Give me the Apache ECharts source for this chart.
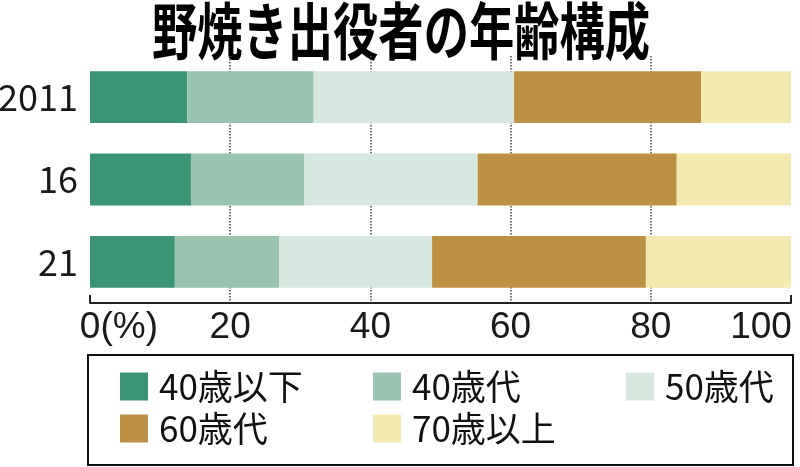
<!DOCTYPE html>
<html>
<head>
<meta charset="utf-8">
<script src="https://cdn.jsdelivr.net/npm/echarts@6/dist/echarts.min.js"></script>
<style>
  html, body { margin: 0; padding: 0; background: #fff; }
  #main { width: 800px; height: 467px; }
</style>
</head>
<body>
<div id="main"></div>
<script>
// 年ごとの割合(%)
var years = ['2011', '16', '21'];
var groups = ['40歳以下', '40歳代', '50歳代', '60歳代', '70歳以上'];
var under40 = [13.9, 14.4, 12.1];
var age40s = [18.0, 16.2, 14.9];
var age50s = [28.6, 24.7, 21.8];
var age60s = [26.7, 28.4, 30.5];
var over70 = [12.8, 16.3, 20.7];
var xTicks = [0, 20, 40, 60, 80, 100];

var colors = ['#3b9474', '#98c4b0', '#d6e8df', '#bc9143', '#f5e9b2'];
var values = [under40, age40s, age50s, age60s, over70];

var myChart = echarts.init(document.getElementById('main'), null, { renderer: 'canvas' });

var series = groups.map(function (name, i) {
  return {
    name: name,
    type: 'bar',
    stack: 'total',
    barCategoryGap: '37%',
    itemStyle: { color: colors[i] },
    data: values[i]
  };
});

var labelFont = { fontFamily: 'Liberation Sans', fontSize: 37, color: '#1a1a1a' };

// 凡例：3列に揃える（右端の列だけ幅を詰める）
var legendData = groups.map(function (name, i) {
  return i === 2 ? { name: name, textStyle: { width: 120 } } : { name: name };
});

var option = {
  backgroundColor: '#fff',
  animation: false,
  grid: {
    left: 90, right: 9, top: 56, bottom: 164,
    containLabel: false,
    outerBoundsMode: 'none'
  },
  xAxis: [
    {
      type: 'value',
      min: xTicks[0],
      max: xTicks[xTicks.length - 1],
      interval: 20,
      axisLine: { show: true, lineStyle: { color: '#222', width: 2 } },
      axisTick: { show: false },
      splitLine: {
        show: true,
        showMinLine: false,
        showMaxLine: false,
        lineStyle: { color: '#444', type: 'dotted', width: 1.5 }
      },
      axisLabel: {
        margin: 6,
        color: labelFont.color,
        fontFamily: labelFont.fontFamily,
        fontSize: labelFont.fontSize,
        formatter: function (v) {
          if (v === 0) return '{p|}0{b|(%)}';
          if (v === 100) return '{v|100}{s|}';
          return v;
        },
        rich: {
          p: { width: 58 },
          b: Object.assign({ width: 58, align: 'left' }, labelFont),
          v: Object.assign({ width: 60 }, labelFont),
          s: { width: 60 }
        }
      }
    },
    {
      // 両端の目盛りだけ
      type: 'value',
      position: 'bottom',
      min: 0,
      max: 100,
      interval: 20,
      axisLine: { show: false },
      axisLabel: { show: false },
      splitLine: { show: false },
      axisTick: {
        show: true,
        inside: true,
        length: 8,
        customValues: [0, 100],
        lineStyle: { color: '#222', width: 2 }
      }
    }
  ],
  yAxis: {
    type: 'category',
    inverse: true,
    data: years,
    axisLine: { show: false },
    axisTick: { show: false },
    axisLabel: {
      margin: 12,
      color: '#1a1a1a',
      fontFamily: 'Noto Sans CJK JP',
      fontSize: 36
    }
  },
  legend: {
    left: 120,
    top: 369,
    width: 670,
    padding: 0,
    itemWidth: 28,
    itemHeight: 28,
    itemGap: 7,
    icon: 'rect',
    selectedMode: false,
    data: legendData,
    textStyle: {
      color: '#111',
      fontFamily: 'Noto Sans CJK JP',
      fontSize: 35,
      lineHeight: 30,
      height: 30,
      width: 207,
      padding: [0, 0, 0, 6]
    }
  },
  graphic: [
    {
      type: 'text',
      x: 401,
      y: 31,
      scaleX: 0.73,
      style: {
        text: '野焼き出役者の年齢構成',
        fill: '#000',
        font: 'bold 62px "Noto Sans CJK JP"',
        textAlign: 'center',
        textVerticalAlign: 'middle'
      }
    },
    {
      type: 'rect',
      silent: true,
      shape: { x: 88, y: 355, width: 705, height: 110 },
      style: { fill: 'none', stroke: '#111', lineWidth: 2 }
    }
  ],
  series: series
};

myChart.setOption(option);
</script>
</body>
</html>
